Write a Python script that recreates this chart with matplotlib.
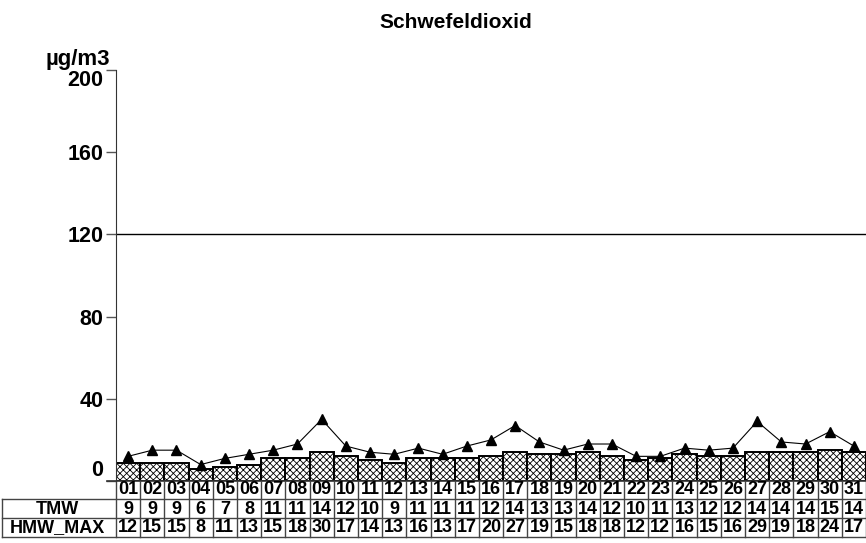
import matplotlib.pyplot as plt
import matplotlib.transforms as mtransforms
import numpy as np

plt.rcParams['font.family'] = ['Liberation Sans', 'DejaVu Sans']
plt.rcParams['font.weight'] = 'bold'
plt.rcParams['hatch.linewidth'] = 0.6

# data
days = ['01', '02', '03', '04', '05', '06', '07', '08', '09', '10', '11', '12', '13', '14', '15', '16',
        '17', '18', '19', '20', '21', '22', '23', '24', '25', '26', '27', '28', '29', '30', '31']
tmw = [9, 9, 9, 6, 7, 8, 11, 11, 14, 12, 10, 9, 11, 11, 11, 12,
       14, 13, 13, 14, 12, 10, 11, 13, 12, 12, 14, 14, 14, 15, 14]
hmw_max = [12, 15, 15, 8, 11, 13, 15, 18, 30, 17, 14, 13, 16, 13, 17, 20,
           27, 19, 15, 18, 18, 12, 12, 16, 15, 16, 29, 19, 18, 24, 17]
threshold = 120
yticks = [0, 40, 80, 120, 160, 200]

W, H = 866, 543
fig = plt.figure(figsize=(W / 100, H / 100), dpi=100)
ax = fig.add_axes([116 / W, 1 - 481 / H, 750 / W, 411 / H])

x = np.arange(len(days))
ax.bar(x, tmw, width=1.0, color='white', edgecolor='black', hatch='xxxxx', linewidth=1.4)
ax.plot(x, hmw_max, color='black', linewidth=0.8, marker='^', markersize=7.5)
ax.axhline(threshold, color='black', linewidth=1.0)

ax.set_xlim(-0.5, len(days) - 0.5)
ax.set_ylim(0, 200)
for s in ['top', 'right', 'bottom']:
    ax.spines[s].set_visible(False)
ax.spines['left'].set_color('#333333')
ax.set_xticks([])
ax.set_yticks(yticks)
ax.set_yticklabels([str(v) for v in yticks], fontsize=15.5, fontweight='bold')
ax.tick_params(axis='y', length=7, width=1, color='#555555', pad=2)
labels = ax.get_yticklabels()
labels[0].set_va('bottom')
labels[-1].set_va('top')

# bottom line of the plot area, starting at tick length
ax.plot([-0.5 - 9 / 750 * len(days), len(days) - 0.5], [0, 0], color='#333333', linewidth=1.2,
        clip_on=False)

fig.text(456 / W, 1 - 22 / H, 'Schwefeldioxid', ha='center', va='center', fontsize=15, fontweight='bold')
fig.text(110 / W, 1 - 59 / H, 'µg/m3', ha='right', va='center', fontsize=16, fontweight='bold')

# table below the chart
trans = mtransforms.blended_transform_factory(ax.transData, ax.transAxes)
row_y = [-9 / 411, -28 / 411, -47 / 411]
row_lines = [0, -18 / 411, -37 / 411, -56 / 411]
line_col = '#444444'
fs = 13
for i, d in enumerate(days):
    ax.text(i, row_y[0], d, transform=trans, ha='center', va='center', fontsize=fs, fontweight='bold')
    ax.text(i, row_y[1], str(tmw[i]), transform=trans, ha='center', va='center', fontsize=fs,
            fontweight='bold')
    ax.text(i, row_y[2], str(hmw_max[i]), transform=trans, ha='center', va='center', fontsize=fs,
            fontweight='bold')
for b in np.arange(len(days) + 1) - 0.5:
    ax.plot([b, b], [row_lines[0], row_lines[3]], transform=trans, color=line_col, linewidth=1,
            clip_on=False)
x0 = (2 - 116) / 750
for yl in row_lines[1:]:
    ax.plot([x0, 1], [yl, yl], transform=ax.transAxes, color=line_col, linewidth=1, clip_on=False)
ax.plot([x0, x0], [row_lines[1], row_lines[3]], transform=ax.transAxes, color=line_col, linewidth=1,
        clip_on=False)
xh = (57 - 116) / 750
ax.text(xh, row_y[1], 'TMW', transform=ax.transAxes, ha='center', va='center', fontsize=fs,
        fontweight='bold')
ax.text(xh, row_y[2], 'HMW_MAX', transform=ax.transAxes, ha='center', va='center', fontsize=fs,
        fontweight='bold')

fig.savefig('out.png', dpi=100)
